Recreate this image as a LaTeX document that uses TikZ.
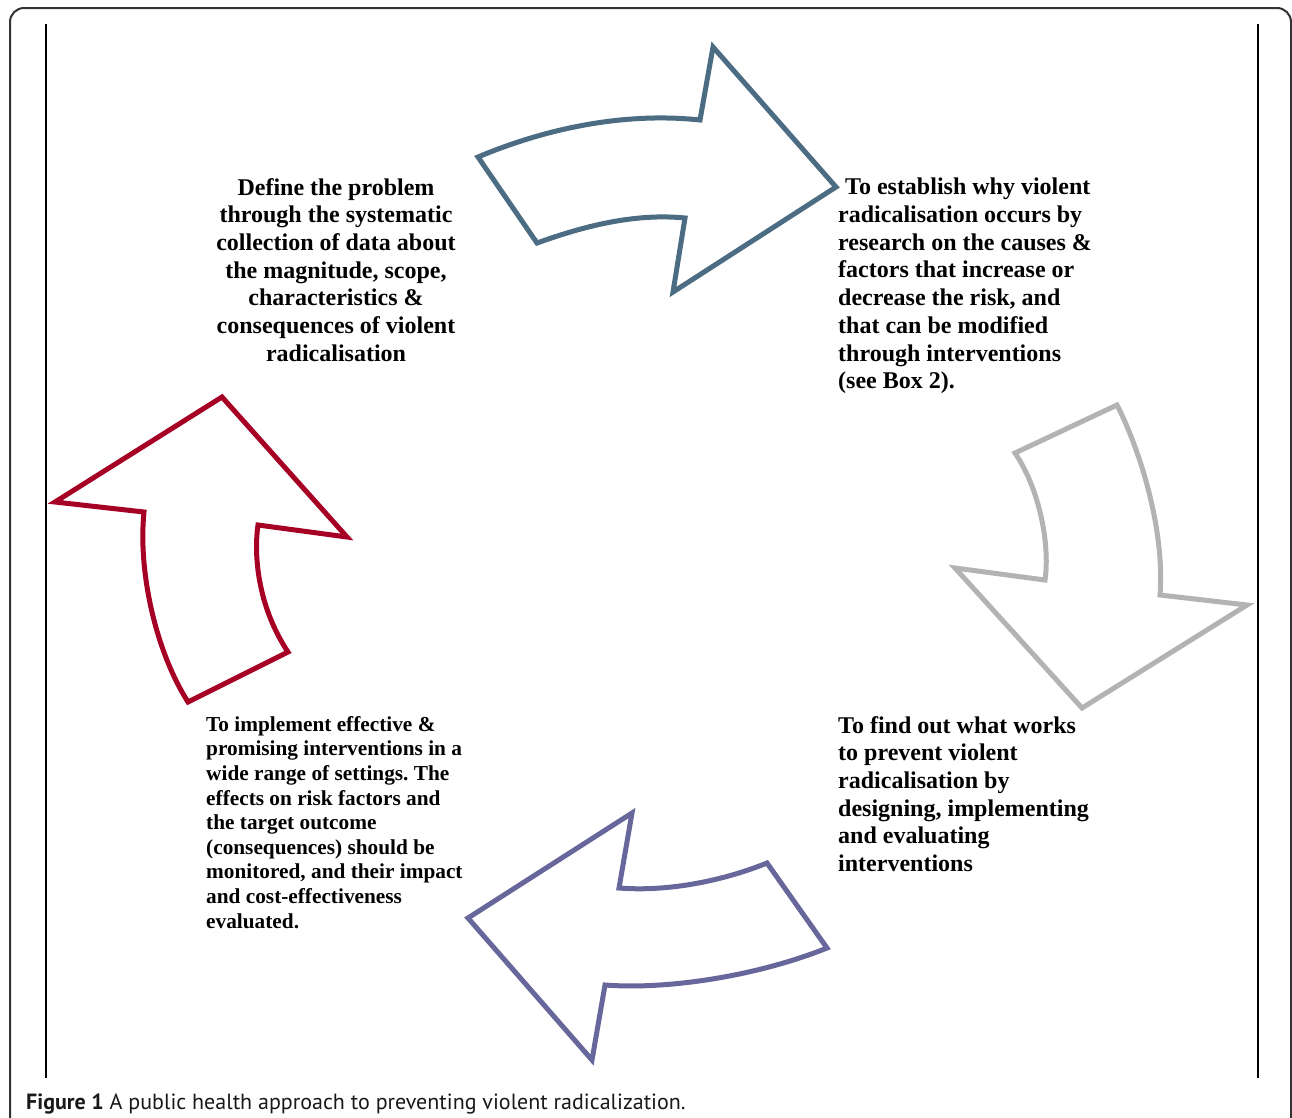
\documentclass[tikz,border=0pt]{standalone}
\usepackage{fontspec}
\setmainfont{Liberation Serif}
\newfontfamily\captionfont{PT Sans}
\frenchspacing

\definecolor{cycleblue}{RGB}{75,108,130}
\definecolor{cyclegrey}{RGB}{179,179,179}
\definecolor{cyclepurple}{RGB}{103,103,156}
\definecolor{cyclered}{RGB}{166,0,36}

\tikzset{
  cyclearrow/.style={line width=5pt, line join=miter, miter limit=10},
  stagetext/.style={font=\bfseries\fontsize{24}{27.7}\selectfont, inner sep=0pt},
  smalltext/.style={font=\bfseries\fontsize{21.3}{24.6}\selectfont, inner sep=0pt},
}

\begin{document}
\begin{tikzpicture}[x=1pt,y=-1pt]
  \useasboundingbox (0,0) rectangle (1292,1117);
  \fill[white] (0,0) rectangle (1292,1117);

  \draw[line width=2pt, color=black!80, rounded corners=14pt] (10,1140) -- (10,8) -- (1291,8) -- (1291,1140);
  \draw[line width=2pt] (46,24) -- (46,1078);
  \draw[line width=2pt] (1258,24) -- (1258,1078);

  \draw[cyclearrow, cycleblue] (478,157) .. controls (547,128) and (625,112) .. (700,120) -- (713,47) -- (836,187) -- (673,292) -- (685,218) .. controls (635,213) and (584,226) .. (537,243) -- cycle;
  \draw[cyclearrow, cyclegrey] (1015,453) -- (1117,405) .. controls (1140,450) and (1165,530) .. (1160,595) -- (1247,605) -- (1082,708) -- (955,568) -- (1045,580) .. controls (1050,545) and (1040,490) .. (1015,453) -- cycle;
  \draw[cyclearrow, cyclepurple] (632,813) -- (619,888) .. controls (670,892) and (725,880) .. (767,863) -- (827,948) .. controls (760,975) and (670,990) .. (605,985) -- (592,1060) -- (468,918) -- cycle;
  \draw[cyclearrow, cyclered] (222,397) -- (347,537) -- (258,525) .. controls (253,560) and (260,610) .. (288,652) -- (188,702) .. controls (155,650) and (138,570) .. (144,512) -- (55,502) -- cycle;

  \node[stagetext, align=center, anchor=north] (define) at (336,178) {Define the problem\\through the systematic\\collection of data about\\the magnitude, scope,\\characteristics \&\\consequences of violent\\radicalisation};
  \node[stagetext, align=left, anchor=north west] (establish) at (838,178) {\hspace*{7pt}To establish why violent\\radicalisation occurs by\\research on the causes \&\\factors that increase or\\decrease the risk, and\\that can be modified\\through interventions\\(see Box 2).};
  \node[stagetext, align=left, anchor=north west] (works) at (838,716) {To find out what works\\to prevent violent\\radicalisation by\\designing, implementing\\and evaluating\\interventions};
  \node[smalltext, align=left, anchor=north west] (implement) at (206,716) {To implement effective \&\\promising interventions in a\\wide range of settings. The\\effects on risk factors and\\the target outcome\\(consequences) should be\\monitored, and their impact\\and cost-effectiveness\\evaluated.};

  \node[anchor=base west, inner sep=0pt, text=black!90, font=\captionfont\fontsize{22}{26}\selectfont] (caption) at (26,1109) {\textbf{Figure 1} A public health approach to preventing violent radicalization.};
\end{tikzpicture}
\end{document}
